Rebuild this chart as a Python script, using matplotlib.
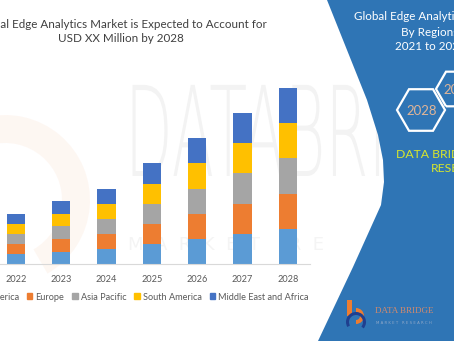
import numpy as np
import matplotlib
matplotlib.use("Agg")
import matplotlib.pyplot as plt
from matplotlib.patches import Polygon, RegularPolygon, Patch, Wedge, Rectangle, PathPatch
from matplotlib.textpath import TextPath
from matplotlib.font_manager import FontProperties
from matplotlib.transforms import Affine2D

# Datos del grafico
years = ["2022", "2023", "2024", "2025", "2026", "2027", "2028"]
regions = ["North America", "Europe", "Asia Pacific", "South America", "Middle East and Africa"]
north_america = [10, 12.5, 15, 20, 25, 30, 35]
europe = [10, 12.5, 15, 20, 25, 30, 35]
asia_pacific = [10, 12.5, 15, 20, 25, 30, 35]
south_america = [10, 12.5, 15, 20, 25, 30, 35]
middle_east_africa = [10, 12.5, 15, 20, 25, 30, 35]
colors = ["#5b9bd5", "#ed7d31", "#a5a5a5", "#ffc000", "#4472c4"]

W, H = 454, 341
fig = plt.figure(figsize=(W / 100, H / 100), dpi=100)
fig.patch.set_facecolor("white")

# Fondo en coordenadas de pixel
bg = fig.add_axes([0, 0, 1, 1], zorder=0)
bg.set_xlim(0, W)
bg.set_ylim(H, 0)
bg.axis("off")

# Marca de agua
fp = FontProperties(family="DejaVu Sans", weight="light")
tp = TextPath((0, 0), "DATABRI", size=100, prop=fp)
tr = Affine2D().scale(0.62, -1.25).translate(125, 176)
bg.add_patch(PathPatch(tr.transform_path(tp), fc="#f3f3f3", ec="none", zorder=1))
bg.text(128, 245, "M  A  R  K  E  T     R  E", fontsize=13,
        color="#f4f4f4", va="center", ha="left", zorder=1, family="DejaVu Sans")
bg.add_patch(Wedge((5, 200), 85, 200, 420, width=28, fc="#ed7d31", alpha=0.06, ec="none", zorder=1))
bg.add_patch(Wedge((40, 330), 110, 120, 200, width=18, fc="#4472c4", alpha=0.04, ec="none", zorder=1))

# Panel azul a la derecha
blue = "#2f75b5"
shape = [(327, 0), (347, 50), (367, 100), (378, 135), (383, 160), (384, 182),
         (381, 205), (353, 267), (318, 341), (W, H), (W, 0)]
bg.add_patch(Polygon(shape, closed=True, fc=blue, ec="none", zorder=2))

font = ["Lato", "DejaVu Sans"]
for y, s in zip([17, 33, 47], ["Global Edge Analytics Market", "By Regions", "2021 to 2028"]):
    bg.text(430, y, s, color="white", fontsize=8.4, ha="center", va="center", family=font, zorder=3)

bg.add_patch(RegularPolygon((421, 110), 6, radius=24, orientation=np.pi / 6,
                            fill=False, ec="white", lw=1.6, zorder=3))
bg.add_patch(RegularPolygon((456, 89), 6, radius=20, orientation=np.pi / 6,
                            fill=False, ec="white", lw=1.6, zorder=3))
bg.text(422, 111, "2028", color="#e0b598", fontsize=9.5, ha="center", va="center", family=font, zorder=3)
bg.text(459, 90, "2021", color="#e0b598", fontsize=9.5, ha="center", va="center", family=font, zorder=3)

bg.text(462, 154, "DATA BRIDGE MARKET", color="#d7e62c", fontsize=8.8, ha="center", va="center",
        family=font, zorder=3)
bg.text(462, 169, "RESEARCH", color="#d7e62c", fontsize=8.8, ha="center", va="center",
        family=font, zorder=3)

# Logo
bg.add_patch(Rectangle((347, 300), 5, 16, fc="#ed7d31", ec="none", zorder=3))
bg.add_patch(Wedge((356, 316), 8, 270, 90, width=4, fc="#ed7d31", ec="none", zorder=3))
bg.add_patch(Wedge((356, 322), 10, 150, 400, width=3, fc="#1f3f8f", ec="none", zorder=3))
bg.text(375, 311, "DATA BRIDGE", color="#d48a6c", fontsize=6.5, family="Liberation Serif",
        ha="left", va="center", zorder=3)
bg.text(376, 323, "M A R K E T   R E S E A R C H", color="#8fa8c8", fontsize=2.8,
        ha="left", va="center", zorder=3)

# Titulo
fig.text(121 / W, 1 - 24 / H, "Global Edge Analytics Market is Expected to Account for",
         ha="center", va="center", fontsize=8.4, color="#404040", family=font)
fig.text(121 / W, 1 - 39 / H, "USD XX Million by 2028",
         ha="center", va="center", fontsize=8.4, color="#404040", family=font)

# Grafico de barras apiladas
ax = fig.add_axes([-52.3 / W, 1 - 264.3 / H, 362.7 / W, 202 / H], zorder=5)
ax.patch.set_alpha(0)
x = np.arange(len(years))
series = [north_america, europe, asia_pacific, south_america, middle_east_africa]
bottom = np.zeros(len(years))
for vals, c, name in zip(series, colors, regions):
    ax.bar(x, vals, width=0.405, bottom=bottom, color=c, label=name)
    bottom += np.array(vals)

ax.set_xlim(-1.5, 6.5)
ax.set_ylim(0, 200)
ax.set_xticks(x)
ax.set_xticklabels(years, fontsize=6.6, color="#595959", family=font)
ax.tick_params(axis="x", length=0, pad=7.5)
ax.set_yticks([])
for s in ["top", "right", "left"]:
    ax.spines[s].set_visible(False)
ax.spines["bottom"].set_color("#d9d9d9")
ax.spines["bottom"].set_linewidth(0.8)

handles = [Patch(color=c) for c in colors]
leg = fig.legend(handles, regions, loc="center", bbox_to_anchor=(130 / W, 1 - 297 / H), ncol=5,
                 frameon=False, handlelength=0.6, handleheight=0.6,
                 handletextpad=0.35, columnspacing=0.85, borderaxespad=0,
                 prop={"family": font, "size": 6.6})
for t in leg.get_texts():
    t.set_color("#595959")

fig.savefig("out.png", dpi=100)
